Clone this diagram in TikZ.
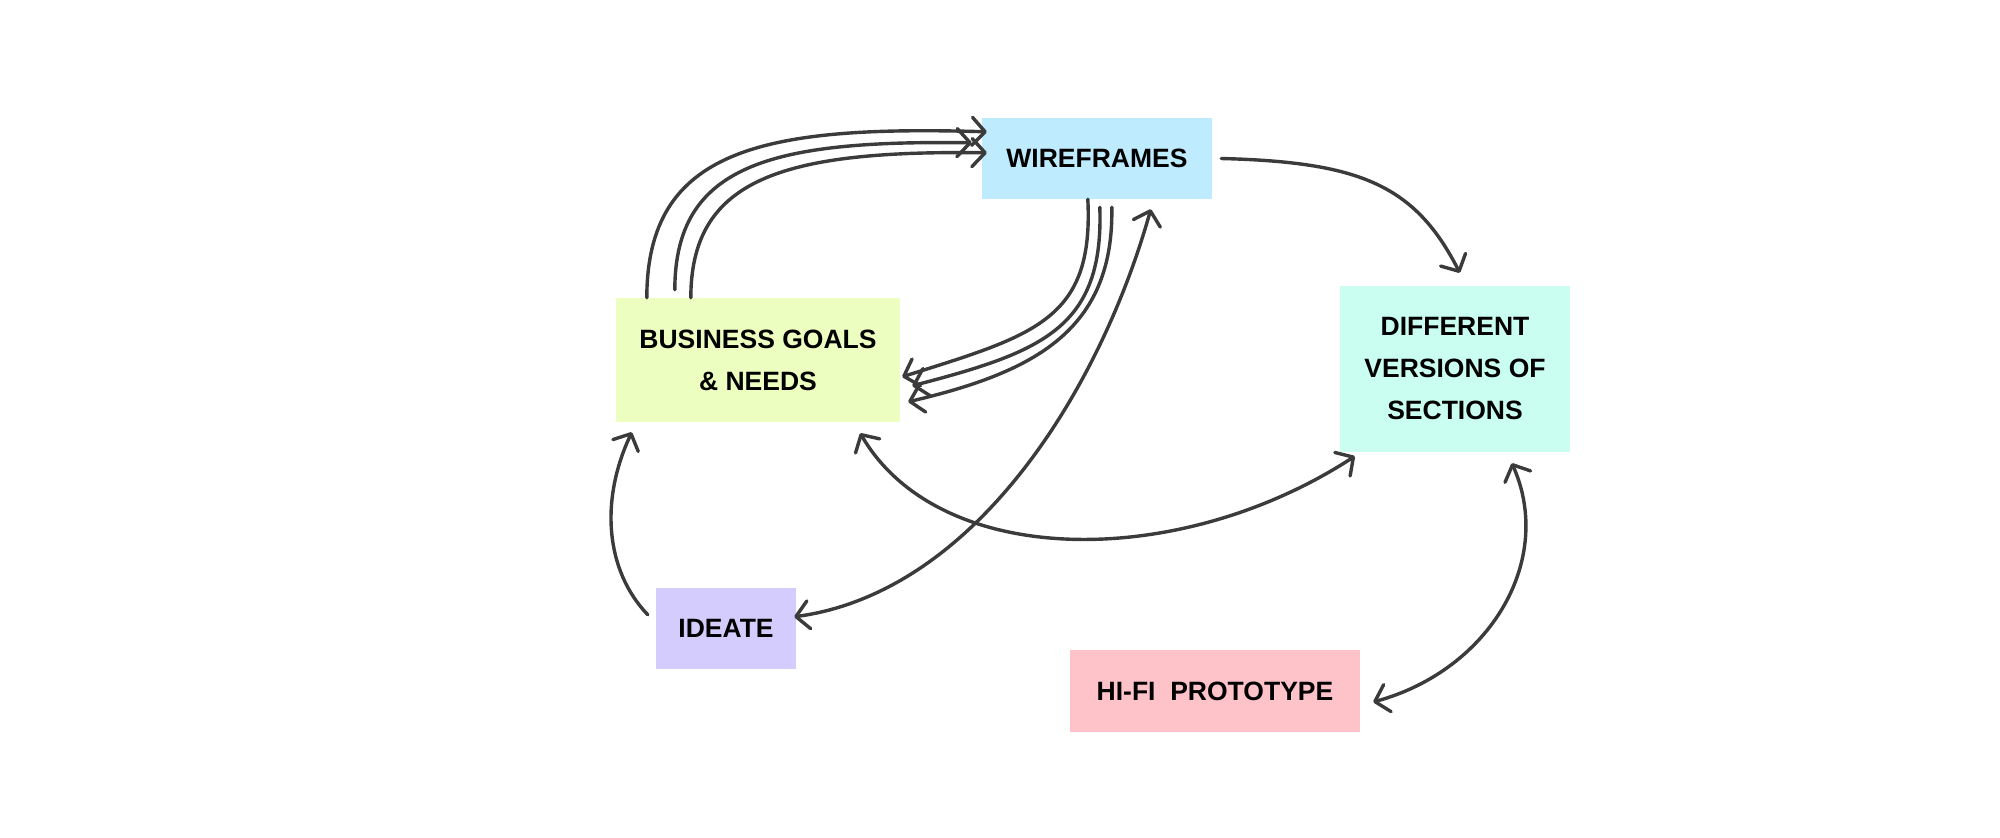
\documentclass[tikz,border=0pt]{standalone}
\usepackage{fontspec}
\setmainfont{Liberation Sans}
\usetikzlibrary{arrows.meta}
\definecolor{wfc}{HTML}{BEEBFE}
\definecolor{bgc}{HTML}{EDFEC1}
\definecolor{dvc}{HTML}{C9FEF0}
\definecolor{idc}{HTML}{D5CCFE}
\definecolor{hfc}{HTML}{FEC2C9}
\definecolor{linec}{HTML}{3B3B3B}
\begin{document}
\begin{tikzpicture}[x=1pt,y=-1pt,
  box/.style={rectangle, inner sep=0pt, align=center,
    font=\bfseries\fontsize{26.5}{42}\selectfont, text=black},
  conn/.style={draw=linec, line width=3.4pt, line cap=round, line join=round},
  >={Straight Barb[length=13pt,width=28pt,round]}]
\fill[white] (0,0) rectangle (2000,838);
\useasboundingbox (0,0) rectangle (2000,838);

\node[box, fill=wfc, minimum width=230pt, minimum height=81pt] (wf) at (1097,158.5) {WIREFRAMES};
\node[box, fill=bgc, minimum width=284pt, minimum height=124pt] (bg) at (758,360) {BUSINESS GOALS\\\& NEEDS};
\node[box, fill=dvc, minimum width=230pt, minimum height=166pt] (dv) at (1455,369) {DIFFERENT\\VERSIONS OF\\SECTIONS};
\node[box, fill=idc, minimum width=140pt, minimum height=81pt] (id) at (726,628.5) {IDEATE};
\node[box, fill=hfc, minimum width=290pt, minimum height=82pt] (hf) at (1215,691) {HI-FI\ \ PROTOTYPE};

% business goals -> wireframes (three strokes)
\draw[conn,->] ([xshift=31pt]bg.north west) .. controls (647,150) and (760,125) .. ([xshift=5pt,yshift=-14pt]wf.north west);
\draw[conn,->] ([xshift=59pt,yshift=8pt]bg.north west) .. controls (675,165) and (770,140) .. ([xshift=-10pt,yshift=-25pt]wf.north west);
\draw[conn,->] ([xshift=75pt]bg.north west) .. controls (691,180) and (780,150) .. ([xshift=5pt,yshift=-35pt]wf.north west);

% wireframes -> business goals (three strokes)
\draw[conn,->] ([xshift=106pt]wf.south west) .. controls (1094,320) and (1035,335) .. ([xshift=2pt,yshift=-79pt]bg.north east);
\draw[conn,->] ([xshift=118pt,yshift=-8pt]wf.south west) .. controls (1104,328) and (1042,352) .. ([xshift=12pt,yshift=-88pt]bg.north east);
\draw[conn,->] ([xshift=130pt,yshift=-8pt]wf.south west) .. controls (1114,330) and (1035,372) .. ([xshift=8pt,yshift=-104pt]bg.north east);

% wireframes -> different versions
\draw[conn,->] ([xshift=9pt]wf.east) .. controls (1360,162) and (1415,185) .. ([xshift=120pt,yshift=13pt]dv.north west);

% business goals <-> different versions
\draw[conn,<->] ([xshift=-40pt,yshift=-11pt]bg.south east) .. controls (940,570) and (1180,570) .. ([xshift=15pt,yshift=-4pt]dv.south west);

% ideate -> business goals
\draw[conn,->] ([xshift=-8pt,yshift=-27pt]id.north west) .. controls (605,570) and (600,500) .. ([xshift=16pt,yshift=-10pt]bg.south west);

% wireframes <-> ideate
\draw[conn,<->] ([xshift=169pt,yshift=-10pt]wf.south west) .. controls (1100,390) and (975,592) .. ([xshift=-2pt,yshift=-29pt]id.north east);

% different versions <-> hi-fi prototype
\draw[conn,<->] ([xshift=172pt,yshift=-11pt]dv.south west) .. controls (1555,560) and (1490,670) .. ([xshift=13pt,yshift=-11pt]hf.east);
\end{tikzpicture}
\end{document}
